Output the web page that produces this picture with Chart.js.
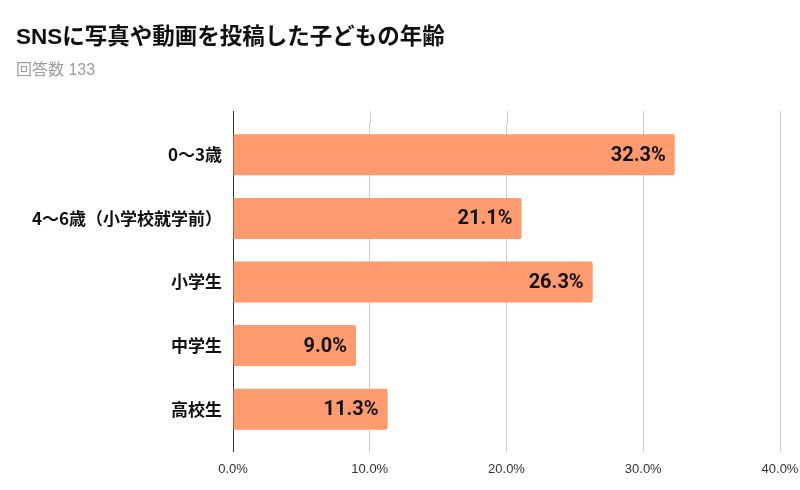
<!DOCTYPE html>
<html><head><meta charset="utf-8">
<script src="https://cdn.jsdelivr.net/npm/chart.js@4"></script>
<style>
html,body{margin:0;padding:0;background:#fff;width:800px;height:490px;overflow:hidden;position:relative;}
#t{position:absolute;left:16px;top:26px;font:bold 22.5px "Liberation Sans","Noto Sans CJK JP",sans-serif;color:#111;line-height:22px;white-space:nowrap;}
#s{position:absolute;left:16px;top:62px;font:16px "Liberation Sans","Noto Sans CJK JP",sans-serif;color:#9e9e9e;line-height:16px;white-space:nowrap;}
#wrap{position:absolute;left:0;top:0;width:800px;height:490px;}
</style></head><body>
<div id="wrap"><canvas id="c" width="800" height="490"></canvas></div>
<div id="t">SNSに写真や動画を投稿した子どもの年齢</div>
<div id="s">回答数 133</div>
<script>
const categories = ["0〜3歳","4〜6歳（小学校就学前）","小学生","中学生","高校生"];
const values = [32.3, 21.1, 26.3, 9.0, 11.3];
const xTicks = [0, 10, 20, 30, 40];

const gridColor = ctx => (ctx.tick && ctx.tick.value === 0) ? '#333333' : '#cccccc';

const extendPlugin = {
  id: 'extend',
  beforeDatasetsDraw(chart) {
    const x = chart.scales.x, a = chart.chartArea, c = chart.ctx;
    c.save();
    c.lineWidth = 1;
    xTicks.forEach(v => {
      const px = Math.round(x.getPixelForValue(v)) + 0.5;
      c.strokeStyle = v === 0 ? '#333333' : '#cccccc';
      c.beginPath(); c.moveTo(px, a.top - 12); c.lineTo(px, a.top); c.stroke();
    });
    c.restore();
  }
};

const labelPlugin = {
  id: 'vals',
  afterDatasetsDraw(chart) {
    const c = chart.ctx, meta = chart.getDatasetMeta(0);
    c.save();
    c.font = 'bold 20px Roboto, "Liberation Sans", sans-serif';
    c.fillStyle = '#111';
    c.textAlign = 'right';
    c.textBaseline = 'middle';
    meta.data.forEach((bar, i) => {
      c.fillText(values[i].toFixed(1) + '%', bar.x - 9, bar.y + 1);
    });
    c.restore();
  }
};

new Chart(document.getElementById('c'), {
  type: 'bar',
  data: {
    labels: categories,
    datasets: [{
      data: values,
      backgroundColor: '#ff9b6e',
      borderRadius: 2,
      borderSkipped: 'start',
      barPercentage: 0.645,
      categoryPercentage: 1
    }]
  },
  options: {
    indexAxis: 'y',
    responsive: false,
    animation: false,
    devicePixelRatio: 1,
    layout: { padding: { top: 123, right: 20, left: 0, bottom: 0 } },
    plugins: { legend: { display: false }, tooltip: { enabled: false } },
    scales: {
      x: {
        min: 0, max: 40,
        afterBuildTicks: s => { s.ticks = xTicks.map(v => ({ value: v })); },
        afterFit: s => { s.height = 49; s.paddingLeft = 0; s.paddingRight = 0; },
        grid: { color: gridColor, drawTicks: true, tickLength: 11, lineWidth: 1 },
        border: { display: false },
        ticks: {
          padding: 10,
          color: '#333',
          maxRotation: 0,
          font: { family: '"Liberation Sans", Arial, sans-serif', size: 13 },
          callback: v => Number(v).toFixed(1) + '%'
        }
      },
      y: {
        afterFit: s => { s.width = 233; },
        grid: { display: false, drawTicks: false },
        border: { display: false },
        ticks: {
          padding: 11,
          color: '#111',
          font: { family: '"Noto Sans CJK JP", "Liberation Sans", sans-serif', size: 17, weight: 'bold' }
        }
      }
    }
  },
  plugins: [extendPlugin, labelPlugin]
});
</script>
</body></html>
